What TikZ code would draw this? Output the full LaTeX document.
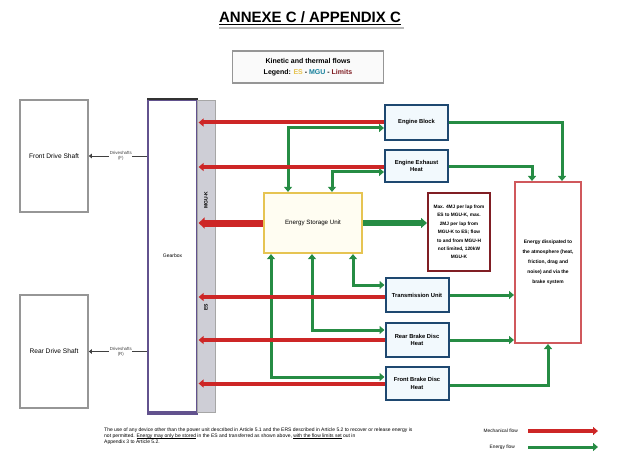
\documentclass[tikz,border=0pt]{standalone}
\usepackage{fontspec}
\setmainfont{Liberation Sans}
\usetikzlibrary{arrows.meta,calc}
\definecolor{redf}{RGB}{205,38,38}
\definecolor{greenf}{RGB}{38,140,68}
\definecolor{blueb}{RGB}{30,72,112}
\definecolor{bluefill}{RGB}{242,249,253}
\definecolor{yelb}{RGB}{230,196,82}
\definecolor{yelfill}{RGB}{255,253,242}
\definecolor{darkred}{RGB}{128,30,36}
\definecolor{lightred}{RGB}{208,88,92}
\definecolor{purp}{RGB}{98,82,142}
\definecolor{stripg}{RGB}{206,206,214}
\definecolor{grayb}{RGB}{150,150,150}
\newcommand\undl[1]{\setbox0\hbox{#1}\rlap{\rule[-0.8pt]{\wd0}{0.4pt}}\box0\relax}
\begin{document}
\begin{tikzpicture}[x=1pt,y=-1pt,
  every node/.style={font=\fontsize{5}{6}\selectfont, align=center, inner sep=1pt},
  >={Triangle[length=5pt,width=8pt]},
  unitbox/.style={draw=blueb, line width=2pt, fill=bluefill, minimum width=63, minimum height=34, font=\fontsize{5.8}{7.5}\selectfont\bfseries},
  sidebox/.style={draw=grayb, line width=1.6pt, fill=white, minimum width=68, minimum height=112, font=\fontsize{6.6}{8}\selectfont},
  redflow/.style={draw=redf, line width=4pt, ->},
  greenflow/.style={draw=greenf, line width=3pt},
  linklabel/.style={font=\fontsize{4.4}{4.8}\selectfont, fill=white, inner sep=0.5pt},
  legendtext/.style={font=\fontsize{5}{6}\selectfont, align=left, anchor=north west}
]
\useasboundingbox (0,0) rectangle (620,462);
% title
\node (title) at (310,18) {\fontsize{15}{15}\selectfont\bfseries\underline{ANNEXE C / APPENDIX C}};
\draw[gray!55, line width=1.2pt] ([xshift=1.5pt,yshift=-2.2pt]title.south west) -- ([xshift=1.5pt,yshift=-2.2pt]title.south east);
% legend box
\node[draw=grayb, line width=1.4pt, fill=gray!4, minimum width=151, minimum height=32,
      font=\fontsize{7}{11}\selectfont\bfseries] (leg) at (308,67)
  {Kinetic and thermal flows\\ Legend: \textcolor{yelb}{ES} - \textcolor{blueb!70!cyan}{MGU} - \textcolor{darkred}{Limits}};
% side boxes
\node[sidebox] (lb1) at (54,156) {Front Drive Shaft};
\node[sidebox, minimum height=113] (lb2) at (54,351.5) {Rear Drive Shaft};
% column and strip
\node[draw=purp, line width=2pt, fill=white, minimum width=49, minimum height=312] (col) at (172.5,256) {Gearbox};
\draw[line width=2pt, black!80] (col.north west) -- (col.north east);
\draw[line width=3pt, purp] (col.south west) -- (col.south east);
\node[draw=gray!70, line width=0.8pt, fill=stripg, minimum width=18, minimum height=312] (strip) at (206,256) {};
\node[rotate=90, font=\fontsize{5}{6}\selectfont\bfseries] (stripk) at (206,200) {MGU-K};
\node[rotate=90, font=\fontsize{5}{6}\selectfont\bfseries] (stripe) at (206,307) {ES};
% links side boxes to column
\draw[line width=0.9pt, black!75, {Triangle[length=3pt,width=4.5pt]}-] (lb1.east) -- (lb1.east -| col.west)
  node[linklabel, pos=0.55] (l1) {Driveshafts\\(F)};
\draw[line width=0.9pt, black!75, {Triangle[length=3pt,width=4.5pt]}-] (lb2.east) -- (lb2.east -| col.west)
  node[linklabel, pos=0.55] (l2) {Driveshafts\\(R)};
% unit boxes
\node[unitbox, minimum height=35] (eng) at (416.5,122.5) {Engine Block};
\node[unitbox, minimum height=32] (exh) at (416.5,166) {Engine Exhaust\\Heat};
\node[unitbox] (trans) at (417,295) {Transmission Unit};
\node[unitbox] (rbrake) at (417,340) {Rear Brake Disc\\Heat};
\node[unitbox, minimum height=33] (fbrake) at (417,383.5) {Front Brake Disc\\Heat};
% energy store
\node[draw=yelb, line width=2.2pt, fill=yelfill, minimum width=98, minimum height=60, font=\fontsize{6.2}{7}\selectfont] (es) at (313,223) {Energy Storage Unit};
% limits box
\node[draw=darkred, line width=2pt, fill=white, minimum width=62, minimum height=78,
      font=\fontsize{4.8}{8.4}\selectfont\bfseries] (lim) at (459,232)
  {Max. 4MJ per lap from\\ ES to MGU-K, max.\\ 2MJ per lap from\\ MGU-K to ES; flow\\ to and from MGU-H\\ not limited, 120kW\\ MGU-K};
% big box
\node[draw=lightred, line width=2pt, fill=white, minimum width=66, minimum height=161,
      font=\fontsize{4.9}{10}\selectfont\bfseries] (big) at (548,262.5)
  {Energy dissipated to\\ the atmosphere (heat,\\ friction, drag and\\ noise) and via the\\ brake system};
% green flows
\draw[greenflow,<->] ([yshift=-5.5pt]eng.west) -| ([xshift=-25pt]es.north);
\draw[greenflow,<->] ([yshift=-6pt]exh.west) -| ([xshift=19pt]es.north);
\draw[greenflow,<->] ([yshift=10pt]trans.west) -| ([xshift=40pt]es.south);
\draw[greenflow,<->] ([yshift=10pt]rbrake.west) -| ([xshift=-1pt]es.south);
\draw[greenflow,<->] ([yshift=6.5pt]fbrake.west) -| ([xshift=-42pt]es.south);
\draw[greenflow,->] (eng.east) -| ([xshift=14pt]big.north);
\draw[greenflow,->] ([yshift=-1pt]exh.east) -| ([xshift=-16pt]big.north);
\draw[greenflow,->] (trans.east) -- (trans.east -| big.west);
\draw[greenflow,->] (rbrake.east) -- (rbrake.east -| big.west);
\draw[greenflow,->] ([yshift=-1.5pt]fbrake.east) -| (big.south);
\draw[greenflow,->,line width=6pt,>={Triangle[length=6pt,width=10pt]}] (es.east) -- (es.east -| lim.west);
% red flows
\draw[redflow] (eng.west) -- ($(eng.west -| strip.west)+(2,0)$);
\draw[redflow] ([yshift=-1pt]exh.west) -- ($([yshift=-1pt]exh.west -| strip.west)+(2,0)$);
\draw[redflow,line width=7pt,>={Triangle[length=6pt,width=11pt]}] (es.west) -- ($(es.west -| strip.west)+(2,0)$);
\draw[redflow] ([yshift=-2pt]trans.west) -- ($([yshift=-2pt]trans.west -| strip.west)+(2,0)$);
\draw[redflow] (rbrake.west) -- ($(rbrake.west -| strip.west)+(2,0)$);
\draw[redflow] (fbrake.west) -- ($(fbrake.west -| strip.west)+(2,0)$);
% bottom note
\node[legendtext] (note) at (103,427)
  {The use of any device other than the power unit described in Article 5.1 and the ERS described in Article 5.2 to recover or release energy is\\
   not permitted. \undl{Energy may only be stored} in the ES and transferred as shown above, \undl{with the flow limits set} out in\\
   Appendix 3 to Article 5.2.};
% bottom legend
\coordinate (ra) at (528,431);
\coordinate (rb) at (598,431);
\coordinate (ga) at (528,447);
\coordinate (gb) at (598,447);
\node[anchor=east, font=\fontsize{4.8}{5}\selectfont] (lr) at (519,431) {Mechanical flow};
\node[anchor=east, font=\fontsize{4.8}{5}\selectfont] (lg) at (516,447) {Energy flow};
\draw[redflow] (ra) -- (rb);
\draw[greenflow,->] (ga) -- (gb);
\end{tikzpicture}
\end{document}
